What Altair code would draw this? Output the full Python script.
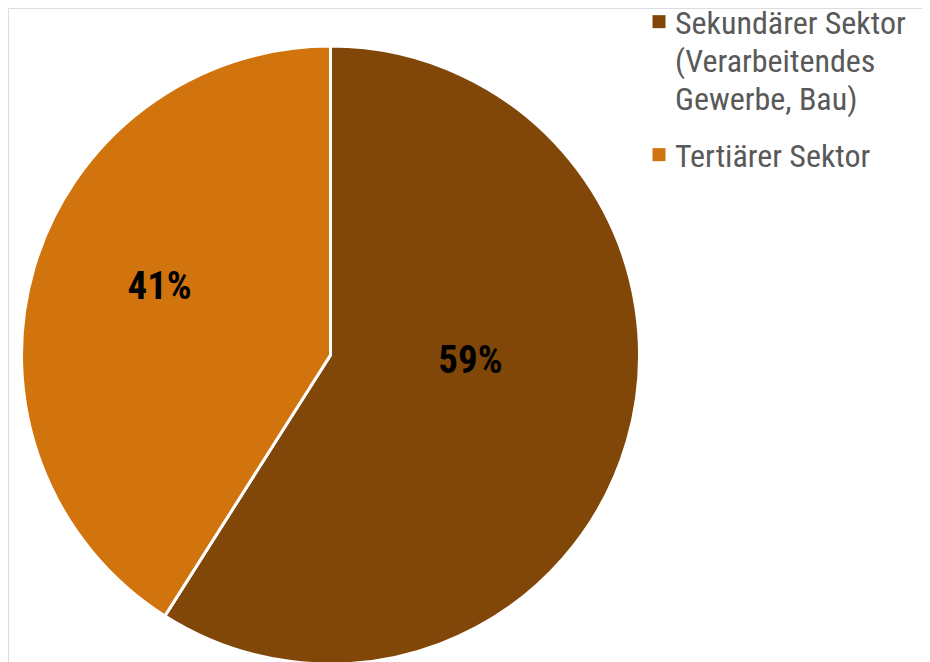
import altair as alt
import pandas as pd

sectors = ["Sekundärer Sektor (Verarbeitendes Gewerbe, Bau)", "Tertiärer Sektor"]
shares = [59, 41]
labels = ["59%", "41%"]
order = [1, 2]
colors = ["#814708", "#D2740E"]

df = pd.DataFrame({"sector": sectors, "share": shares, "label": labels, "ord": order})

FONT = "Liberation Sans Narrow, Arial Narrow, Roboto Condensed, sans-serif"

cx, cy = 322.5, 347

theta = alt.Theta("share:Q", stack=True, scale=alt.Scale(domain=[0, 100]))

legend = alt.Legend(
    title=None,
    orient="none",
    legendX=635,
    legendY=10,
    padding=0,
    symbolType="M-1,-2.9H1V-0.9H-1Z",
    symbolSize=169,
    symbolStrokeWidth=0,
    labelFont=FONT,
    labelFontSize=32,
    labelColor="#595959",
    labelLimit=400,
    labelOffset=0,
    labelBaseline="alphabetic",
    rowPadding=25,
    labelExpr="datum.label == 'Sekundärer Sektor (Verarbeitendes Gewerbe, Bau)' ? ['Sekundärer Sektor', '(Verarbeitendes', 'Gewerbe, Bau)'] : datum.label",
)

base = alt.Chart(df)

pie = base.mark_arc(outerRadius=309, stroke="white", strokeWidth=3).encode(
    theta=theta,
    color=alt.Color("sector:N", scale=alt.Scale(domain=sectors, range=colors), legend=legend),
    order=alt.Order("ord:Q"),
    x=alt.value(cx),
    y=alt.value(cy),
)

txt1 = base.mark_text(
    radius=140, thetaOffset=-0.239, font=FONT, fontSize=39, fontWeight="bold", color="black"
).encode(
    theta=theta,
    order=alt.Order("ord:Q"),
    text="label:N",
    opacity=alt.condition(alt.datum.ord == 1, alt.value(1), alt.value(0)),
    x=alt.value(cx),
    y=alt.value(cy),
)

txt2 = base.mark_text(
    radius=184, thetaOffset=0.097, font=FONT, fontSize=39, fontWeight="bold", color="black"
).encode(
    theta=theta,
    order=alt.Order("ord:Q"),
    text="label:N",
    opacity=alt.condition(alt.datum.ord == 2, alt.value(1), alt.value(0)),
    x=alt.value(cx),
    y=alt.value(cy),
)

chart = (
    alt.layer(pie, txt1, txt2)
    .properties(width=914, height=654, autosize=alt.AutoSizeParams(type="none"), padding=0)
    .configure_view(stroke="transparent", strokeWidth=0)
    .configure(style={"guide-label": {"lineHeight": 38}})
)

chart.save("out.html", embed_options={"renderer": "svg", "actions": False})
